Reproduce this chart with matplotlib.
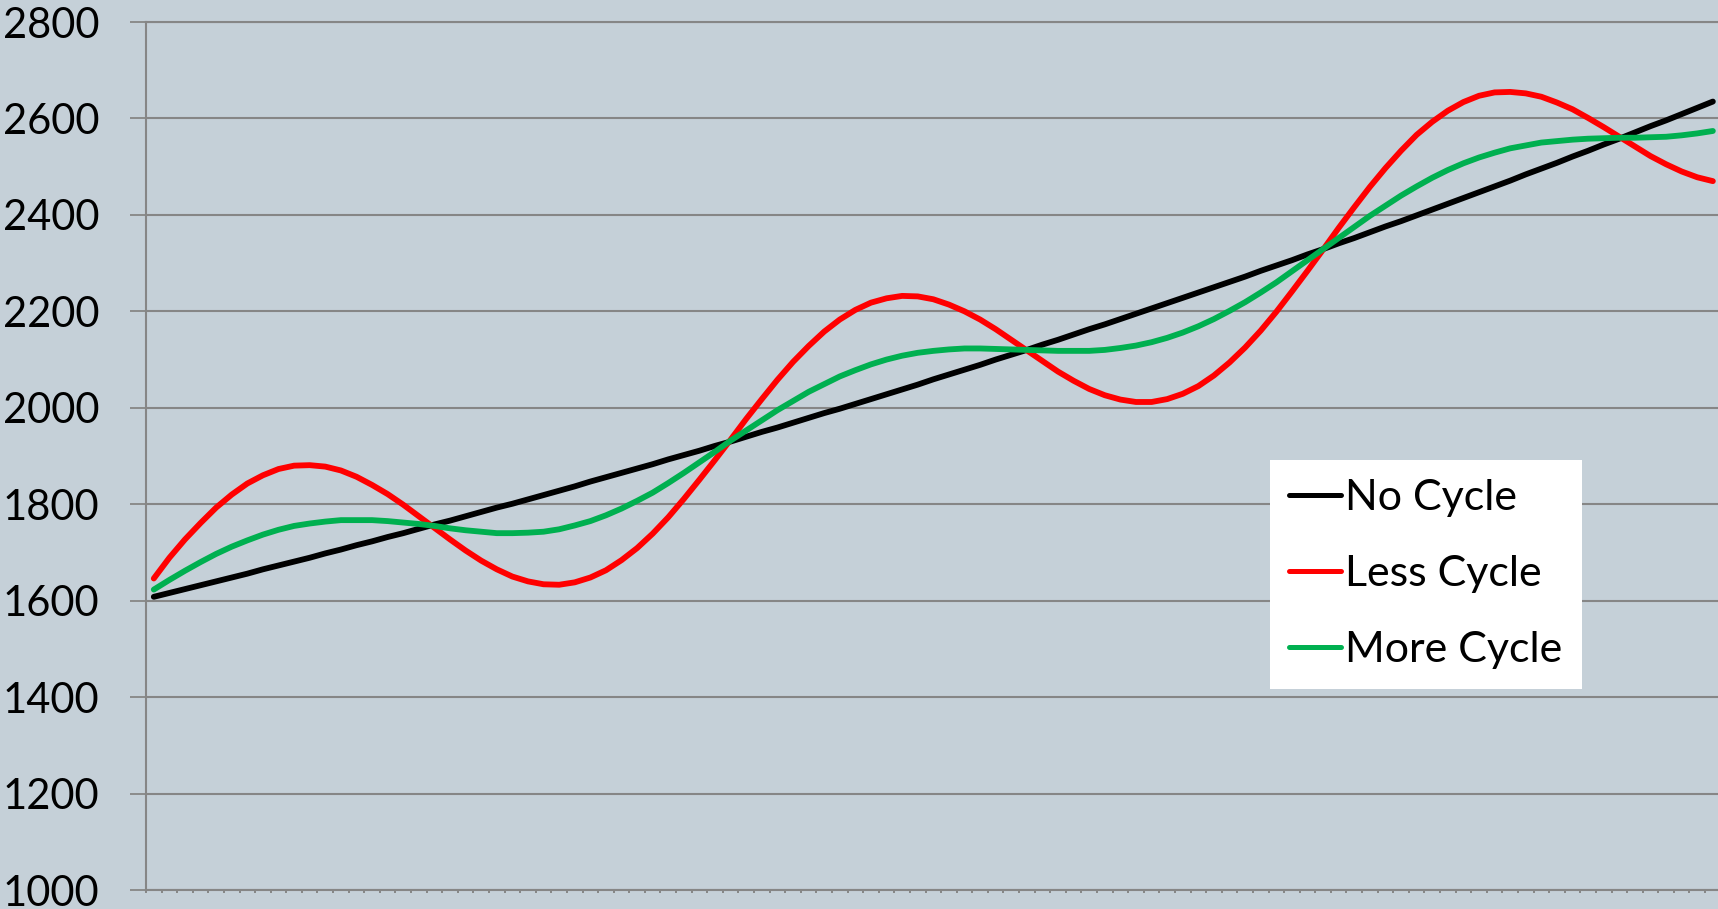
import numpy as np
import matplotlib
matplotlib.use('Agg')
import matplotlib.pyplot as plt

# One value per period, periods 0..100
periods = np.arange(101)

no_cycle = [1608, 1616, 1624, 1632, 1640, 1648, 1656, 1665, 1673, 1681,
            1689, 1698, 1706, 1715, 1723, 1732, 1740, 1749, 1758, 1766,
            1775, 1784, 1793, 1801, 1810, 1819, 1828, 1837, 1847, 1856,
            1865, 1874, 1883, 1893, 1902, 1911, 1921, 1930, 1940, 1950,
            1959, 1969, 1979, 1989, 1998, 2008, 2018, 2028, 2038, 2048,
            2059, 2069, 2079, 2089, 2100, 2110, 2120, 2131, 2141, 2152,
            2163, 2173, 2184, 2195, 2206, 2217, 2228, 2239, 2250, 2261,
            2272, 2284, 2295, 2306, 2318, 2329, 2341, 2352, 2364, 2376,
            2387, 2399, 2411, 2423, 2435, 2447, 2459, 2471, 2484, 2496,
            2508, 2521, 2533, 2546, 2558, 2571, 2584, 2596, 2609, 2622,
            2635]

less_cycle = [1646, 1689, 1727, 1761, 1793, 1820, 1843, 1860, 1873, 1880,
              1881, 1878, 1870, 1857, 1840, 1821, 1799, 1775, 1751, 1727,
              1704, 1683, 1665, 1650, 1640, 1634, 1633, 1638, 1648, 1663,
              1684, 1709, 1739, 1773, 1811, 1851, 1892, 1934, 1977, 2018,
              2058, 2095, 2128, 2158, 2183, 2203, 2218, 2227, 2232, 2231,
              2225, 2214, 2200, 2183, 2163, 2141, 2119, 2097, 2075, 2056,
              2039, 2026, 2017, 2012, 2012, 2018, 2029, 2045, 2067, 2094,
              2125, 2160, 2199, 2241, 2284, 2328, 2373, 2416, 2458, 2497,
              2533, 2566, 2593, 2616, 2634, 2647, 2654, 2655, 2652, 2645,
              2633, 2619, 2601, 2582, 2562, 2542, 2522, 2505, 2490, 2478,
              2470]

more_cycle = [1623, 1643, 1662, 1680, 1697, 1712, 1725, 1737, 1747, 1755,
              1760, 1764, 1767, 1767, 1767, 1765, 1762, 1759, 1755, 1750,
              1746, 1743, 1740, 1740, 1741, 1743, 1748, 1756, 1765, 1777,
              1791, 1807, 1824, 1844, 1865, 1887, 1909, 1932, 1953, 1974,
              1995, 2014, 2033, 2049, 2065, 2078, 2090, 2100, 2108, 2114,
              2118, 2121, 2123, 2123, 2122, 2121, 2120, 2119, 2118, 2118,
              2118, 2120, 2124, 2129, 2136, 2145, 2156, 2169, 2184, 2201,
              2219, 2239, 2260, 2283, 2306, 2329, 2352, 2375, 2398, 2419,
              2440, 2459, 2477, 2493, 2507, 2519, 2529, 2538, 2544, 2550,
              2553, 2556, 2558, 2559, 2560, 2560, 2561, 2562, 2565, 2569,
              2574]

series_names = ['No Cycle', 'Less Cycle', 'More Cycle']
series_colors = ['#000000', '#FF0000', '#00B050']
y_ticks = [1000, 1200, 1400, 1600, 1800, 2000, 2200, 2400, 2600, 2800]

bg = '#C5D0D8'
grid_gray = '#868686'

plt.rcParams['font.family'] = ['Lato', 'DejaVu Sans']

fig = plt.figure(figsize=(17.18, 9.09), dpi=100, facecolor=bg)
ax = fig.add_axes([146 / 1718, 19 / 909, 1572 / 1718, 868 / 909])
ax.set_facecolor(bg)

for values, name, color in zip([no_cycle, less_cycle, more_cycle],
                               series_names, series_colors):
    ax.plot(periods, values, color=color, linewidth=4.2, label=name,
            solid_capstyle='round', solid_joinstyle='round', zorder=3)

ax.set_xlim(-0.5, 100.33)
ax.set_ylim(1000, 2800)

# horizontal gridlines
ax.set_yticks(y_ticks)
ax.set_yticklabels([str(t) for t in y_ticks])
ax.yaxis.grid(True, color=grid_gray, linewidth=1.5)
ax.set_axisbelow(True)
ax.tick_params(axis='y', direction='out', length=11.5, width=1.3,
               color=grid_gray, pad=22, labelsize=30, labelcolor='black')

# small category ticks along the bottom
ax.set_xticks(periods - 0.5)
ax.set_xticklabels([])
ax.tick_params(axis='x', direction='out', length=1.8, width=1.4,
               color=grid_gray)

for side in ['left', 'bottom', 'top']:
    ax.spines[side].set_color(grid_gray)
    ax.spines[side].set_linewidth(1.5)
ax.spines['right'].set_visible(False)

leg = ax.legend(loc='upper left', bbox_to_anchor=(1270 / 1718, 1 - 460 / 909),
                bbox_transform=fig.transFigure, fontsize=31, frameon=True,
                fancybox=False, framealpha=1, edgecolor='white',
                handlelength=1.2, handletextpad=0.1, labelspacing=0.88,
                borderpad=0.45, borderaxespad=0)
leg.get_frame().set_linewidth(0)
for line in leg.get_lines():
    line.set_linewidth(3.6)

fig.savefig('out.png', dpi=100, facecolor=bg)
